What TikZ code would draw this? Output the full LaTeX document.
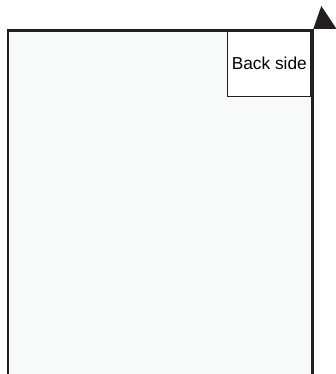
\documentclass[tikz,border=0pt]{standalone}
\usepackage{fontspec}
\setmainfont{Liberation Sans}
\definecolor{ink}{HTML}{231F20}
\definecolor{paper}{HTML}{F8FAFA}
\tikzset{
  frameline/.style={draw=ink, line width=2.4pt, line cap=butt, line join=miter},
  labelbox/.style={draw=ink, fill=white, line width=1pt, inner sep=0pt, font=\fontsize{17.3}{19}\selectfont},
  pointer/.style={fill=ink, draw=none}
}
\begin{document}
\begin{tikzpicture}[x=1pt,y=-1pt]
\useasboundingbox (0,0) rectangle (336,374);
% sheet
\fill[paper] (8.2,30.7) rectangle (312.3,374);
% back side label box
\node[labelbox, minimum width=83pt, minimum height=65pt, anchor=north west] (back) at (227.3,30.7) {Back side};
% frame (open at bottom)
\coordinate (bl) at (8.2,374);
\coordinate (tl) at (8.2,30.7);
\coordinate (tr) at (312.3,30.7);
\coordinate (br) at (312.3,374);
\draw[frameline] (bl) -- (tl) -- (tr) -- (br);
% triangle pointer
\coordinate (t1) at (313.3,28.9);
\coordinate (t2) at (321.3,6);
\coordinate (t3) at (336.5,28.9);
\fill[pointer] (t1) -- (t2) -- (t3) -- cycle;
\end{tikzpicture}
\end{document}
